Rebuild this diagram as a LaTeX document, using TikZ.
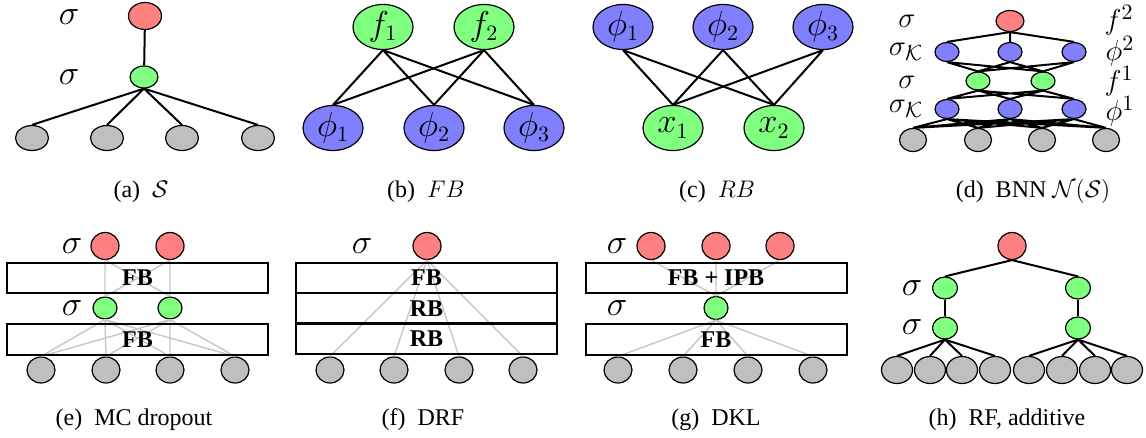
\documentclass[tikz,border=0pt]{standalone}
\usepackage[no-math]{fontspec}
\setmainfont{Liberation Serif}
\usetikzlibrary{shapes.geometric}

\begin{document}
\begin{tikzpicture}[x=0.5pt,y=-0.5pt,
  unit/.style={ellipse,draw,line width=0.6pt,inner sep=0pt,font=\fontsize{16}{19}\selectfont},
  sz/.style 2 args={minimum width=#1,minimum height=#2},
  rednode/.style={unit,fill=red!50},
  greennode/.style={unit,fill=green!50},
  bluenode/.style={unit,fill=blue!50},
  graynode/.style={unit,fill=black!25},
  link/.style={line width=1pt},
  faint/.style={line width=0.7pt,black!22},
  block/.style={draw,line width=1pt,minimum width=130.5pt,minimum height=15pt,inner sep=0pt,font=\large\bfseries},
  lbl/.style={inner sep=0pt,font=\fontsize{16}{19}\selectfont},
  dlbl/.style={inner sep=0pt,font=\fontsize{15}{18}\selectfont},
  captext/.style={font=\large}]
\fill[white] (0,0) rectangle (1146,438);

\node[lbl] (asig2) at (69,17) {$\sigma$};
\node[lbl] (asig1) at (69,77) {$\sigma$};
\node[rednode,sz={16.5pt}{13.5pt}] (aout) at (145,16) {};
\node[greennode,sz={14pt}{11pt}] (ahid) at (144,77) {};
\node[graynode,sz={16.5pt}{12.5pt}] (ain1) at (32,138) {};
\node[graynode,sz={16.5pt}{12.5pt}] (ain2) at (107,138) {};
\node[graynode,sz={16.5pt}{12.5pt}] (ain3) at (182,138) {};
\node[graynode,sz={16.5pt}{12.5pt}] (ain4) at (258,138) {};
\draw[link] (aout) -- (ahid);
\draw[link] (ahid.south) -- (ain1.north) (ahid.south) -- (ain2.north)
  (ahid.south) -- (ain3.north) (ahid.south) -- (ain4.north);
\node[captext] (acap) at (141,192) {(a)\enspace$\mathcal{S}$};

\node[greennode,sz={30pt}{22.5pt}] (bf1) at (383,27) {$f_1$};
\node[greennode,sz={30pt}{22.5pt}] (bf2) at (484,27) {$f_2$};
\node[bluenode,sz={30pt}{22.5pt}] (bphi1) at (333,128) {$\phi_1$};
\node[bluenode,sz={30pt}{22.5pt}] (bphi2) at (434,128) {$\phi_2$};
\node[bluenode,sz={30pt}{22.5pt}] (bphi3) at (534,128) {$\phi_3$};
\draw[link] (bf1.south) -- (bphi1.north) (bf1.south) -- (bphi2.north) (bf1.south) -- (bphi3.north);
\draw[link] (bf2.south) -- (bphi1.north) (bf2.south) -- (bphi2.north) (bf2.south) -- (bphi3.north);
\node[captext] (bcap) at (426,192) {(b)\enspace$FB$};

\node[bluenode,sz={30pt}{22.5pt}] (cphi1) at (623,27) {$\phi_1$};
\node[bluenode,sz={30pt}{22.5pt}] (cphi2) at (723,27) {$\phi_2$};
\node[bluenode,sz={30pt}{22.5pt}] (cphi3) at (823,27) {$\phi_3$};
\node[greennode,sz={30pt}{22.5pt}] (cx1) at (673,128) {$x_1$};
\node[greennode,sz={30pt}{22.5pt}] (cx2) at (774,128) {$x_2$};
\draw[link] (cphi1.south) -- (cx1.north) (cphi1.south) -- (cx2.north);
\draw[link] (cphi2.south) -- (cx1.north) (cphi2.south) -- (cx2.north);
\draw[link] (cphi3.south) -- (cx1.north) (cphi3.south) -- (cx2.north);
\node[captext] (ccap) at (717,192) {(c)\enspace$RB$};

\node[dlbl] (dsig4) at (907,21) {$\sigma$};
\node[dlbl] (dsig3) at (906,52) {$\sigma_{\mathcal{K}}$};
\node[dlbl] (dsig2) at (907,82) {$\sigma$};
\node[dlbl] (dsig1) at (906,109) {$\sigma_{\mathcal{K}}$};
\node[dlbl] (df2) at (1119,20) {$f^2$};
\node[dlbl] (dphi2) at (1120,51) {$\phi^2$};
\node[dlbl] (df1) at (1119,81) {$f^1$};
\node[dlbl] (dphi1) at (1120,111) {$\phi^1$};
\node[rednode,sz={14pt}{10.5pt}] (dout) at (1010,21) {};
\node[bluenode,sz={12pt}{9.5pt}] (du1) at (947,52) {};
\node[bluenode,sz={12pt}{9.5pt}] (du2) at (1010,52) {};
\node[bluenode,sz={12pt}{9.5pt}] (du3) at (1074,52) {};
\node[greennode,sz={12pt}{9pt}] (dh1) at (978,81) {};
\node[greennode,sz={12pt}{9pt}] (dh2) at (1043,81) {};
\node[bluenode,sz={12pt}{9.5pt}] (dv1) at (947,109) {};
\node[bluenode,sz={12pt}{9.5pt}] (dv2) at (1010,109) {};
\node[bluenode,sz={12pt}{9.5pt}] (dv3) at (1074,109) {};
\node[graynode,sz={13.5pt}{11.5pt}] (din1) at (913,140) {};
\node[graynode,sz={13.5pt}{11.5pt}] (din2) at (978,140) {};
\node[graynode,sz={13.5pt}{11.5pt}] (din3) at (1042,140) {};
\node[graynode,sz={13.5pt}{11.5pt}] (din4) at (1106,140) {};
\draw[link] (dout.south) -- (du1.north) (dout.south) -- (du2.north) (dout.south) -- (du3.north);
\draw[link] (du1.south) -- (dh1.north) (du1.south) -- (dh2.north)
  (du2.south) -- (dh1.north) (du2.south) -- (dh2.north)
  (du3.south) -- (dh1.north) (du3.south) -- (dh2.north);
\draw[link] (dh1.south) -- (dv1.north) (dh1.south) -- (dv2.north) (dh1.south) -- (dv3.north)
  (dh2.south) -- (dv1.north) (dh2.south) -- (dv2.north) (dh2.south) -- (dv3.north);
\draw[link] (dv1.south) -- (din1.north) (dv1.south) -- (din2.north) (dv1.south) -- (din3.north) (dv1.south) -- (din4.north)
  (dv2.south) -- (din1.north) (dv2.south) -- (din2.north) (dv2.south) -- (din3.north) (dv2.south) -- (din4.north)
  (dv3.south) -- (din1.north) (dv3.south) -- (din2.north) (dv3.south) -- (din3.north) (dv3.south) -- (din4.north);
\node[captext] (dcap) at (1033,192) {(d)\enspace BNN $\mathcal{N}(\mathcal{S})$};

\node[lbl] (esig2) at (72,246) {$\sigma$};
\node[lbl] (esig1) at (72,308) {$\sigma$};
\node[rednode,sz={14pt}{13.5pt}] (eout1) at (105,246) {};
\node[rednode,sz={14pt}{13.5pt}] (eout2) at (170,246) {};
\node[greennode,sz={12pt}{11pt}] (eh1) at (105,308) {};
\node[greennode,sz={12pt}{11pt}] (eh2) at (170,308) {};
\node[graynode,sz={14pt}{13pt}] (ein1) at (41,370) {};
\node[graynode,sz={14pt}{13pt}] (ein2) at (106,370) {};
\node[graynode,sz={14pt}{13pt}] (ein3) at (170,370) {};
\node[graynode,sz={14pt}{13pt}] (ein4) at (235,370) {};
\draw[faint] (eout1.south) -- (eh1.north) (eout1.south) -- (eh2.north)
  (eout2.south) -- (eh1.north) (eout2.south) -- (eh2.north);
\draw[faint] (eh1.south) -- (ein1.north) (eh1.south) -- (ein2.north) (eh1.south) -- (ein3.north) (eh1.south) -- (ein4.north)
  (eh2.south) -- (ein1.north) (eh2.south) -- (ein2.north) (eh2.south) -- (ein3.north) (eh2.south) -- (ein4.north);
\node[block] (efb2) at (137.5,278) {FB};
\node[block] (efb1) at (137.5,339.5) {FB};
\node[captext] (ecap) at (134,420) {(e)\enspace MC dropout};

\node[lbl] (fsig) at (362,246) {$\sigma$};
\node[rednode,sz={14pt}{13.5pt}] (fout) at (427,246) {};
\node[graynode,sz={14pt}{13pt}] (fin1) at (330,370) {};
\node[graynode,sz={14pt}{13pt}] (fin2) at (394,370) {};
\node[graynode,sz={14pt}{13pt}] (fin3) at (459,370) {};
\node[graynode,sz={14pt}{13pt}] (fin4) at (523,370) {};
\draw[faint] (fout.south) -- (fin1.north) (fout.south) -- (fin2.north)
  (fout.south) -- (fin3.north) (fout.south) -- (fin4.north);
\node[block] (ffb) at (426.5,278) {FB};
\node[block] (frb2) at (426.5,308.5) {RB};
\node[block] (frb1) at (426.5,339) {RB};
\node[captext] (fcap) at (423,420) {(f)\enspace DRF};

\node[lbl] (gsig2) at (617,246) {$\sigma$};
\node[lbl] (gsig1) at (617,308) {$\sigma$};
\node[rednode,sz={14pt}{13.5pt}] (gout1) at (651,246) {};
\node[rednode,sz={14pt}{13.5pt}] (gout2) at (716,246) {};
\node[rednode,sz={14pt}{13.5pt}] (gout3) at (780,246) {};
\node[greennode,sz={12pt}{11.5pt}] (gh) at (716,308) {};
\node[graynode,sz={14pt}{13pt}] (gin1) at (618,370) {};
\node[graynode,sz={14pt}{13pt}] (gin2) at (683,370) {};
\node[graynode,sz={14pt}{13pt}] (gin3) at (748,370) {};
\node[graynode,sz={14pt}{13pt}] (gin4) at (813,370) {};
\draw[faint] (gout1.south) -- (gh.north) (gout2.south) -- (gh.north) (gout3.south) -- (gh.north);
\draw[faint] (gh.south) -- (gin1.north) (gh.south) -- (gin2.north)
  (gh.south) -- (gin3.north) (gh.south) -- (gin4.north);
\node[block] (gfb2) at (716,278) {FB + IPB};
\node[block] (gfb1) at (716,339.5) {FB};
\node[captext] (gcap) at (716,420) {(g)\enspace DKL};

\node[lbl] (hsig2) at (912,288) {$\sigma$};
\node[lbl] (hsig1) at (912,327) {$\sigma$};
\node[rednode,sz={14pt}{13.5pt}] (hout) at (1012,246) {};
\node[greennode,sz={12.5pt}{11pt}] (hh1) at (945,288) {};
\node[greennode,sz={12.5pt}{11pt}] (hh2) at (1078,288) {};
\node[greennode,sz={12.5pt}{11pt}] (hg1) at (945,328) {};
\node[greennode,sz={12.5pt}{11pt}] (hg2) at (1078,328) {};
\node[graynode,sz={15.5pt}{13.5pt}] (hin1) at (897,370) {};
\node[graynode,sz={15.5pt}{13.5pt}] (hin2) at (930,370) {};
\node[graynode,sz={15.5pt}{13.5pt}] (hin3) at (962,370) {};
\node[graynode,sz={15.5pt}{13.5pt}] (hin4) at (995,370) {};
\node[graynode,sz={15.5pt}{13.5pt}] (hin5) at (1029,370) {};
\node[graynode,sz={15.5pt}{13.5pt}] (hin6) at (1062,370) {};
\node[graynode,sz={15.5pt}{13.5pt}] (hin7) at (1095,370) {};
\node[graynode,sz={15.5pt}{13.5pt}] (hin8) at (1127,370) {};
\draw[link] (hout.south) -- (hh1.north) (hout.south) -- (hh2.north);
\draw[link] (hh1) -- (hg1) (hh2) -- (hg2);
\draw[link] (hg1.south) -- (hin1.north) (hg1.south) -- (hin2.north) (hg1.south) -- (hin3.north) (hg1.south) -- (hin4.north);
\draw[link] (hg2.south) -- (hin5.north) (hg2.south) -- (hin6.north) (hg2.south) -- (hin7.north) (hg2.south) -- (hin8.north);
\node[captext] (hcap) at (1007,420) {(h)\enspace RF, additive};
\end{tikzpicture}
\end{document}
